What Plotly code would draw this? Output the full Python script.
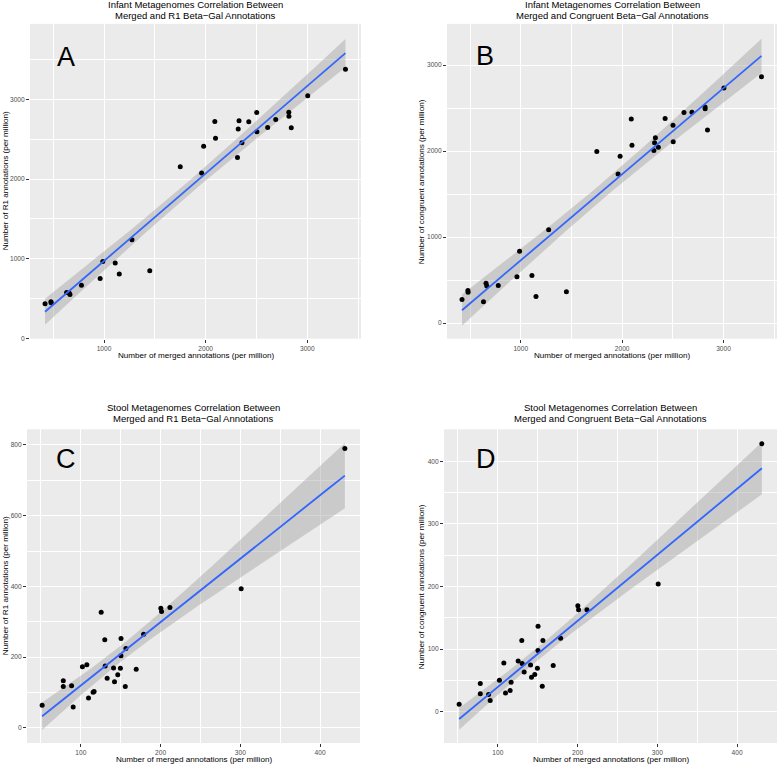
import numpy as np
import plotly.graph_objects as go

W, H = 778, 767

# infant metagenomes: merged annotations (x), R1 (panel A) and congruent (panel B)
infant_merged = [420, 478, 480, 632, 657, 665, 778, 962, 988, 1110, 1150, 1275, 1450,
                 1750, 1960, 1980, 2090, 2097, 2313, 2320, 2328, 2357, 2424, 2502,
                 2504, 2610, 2689, 2818, 2819, 2842, 3004, 3375]
infant_r1 = [434, 459, 446, 575, 570, 550, 666, 750, 966, 946, 809, 1237, 850,
             2154, 2077, 2412, 2725, 2512, 2271, 2629, 2733, 2458, 2721, 2837,
             2596, 2648, 2750, 2841, 2791, 2646, 3046, 3379]
infant_congruent = [273, 378, 359, 247, 463, 432, 436, 537, 834, 552, 308, 1085, 365,
                    1995, 1734, 1940, 2375, 2068, 2008, 2097, 2155, 2046, 2379, 2301,
                    2109, 2450, 2452, 2514, 2492, 2245, 2734, 2865]

# stool metagenomes: merged annotations (x), R1 (panel C) and congruent (panel D)
stool_merged = [51.5, 78, 78, 88.4, 90.4, 102, 107.5, 109.6, 115.4, 116.6, 125.5, 130,
                130.5, 133, 141, 142.2, 146.3, 150.4, 149.6, 150.3, 155.7, 156.5,
                169.4, 178.7, 200.3, 201.2, 211.7, 301, 431]
stool_r1 = [64, 133.5, 116.6, 119.4, 59, 173, 178.6, 84.5, 100.6, 103, 326.8, 249,
            174.6, 140, 169, 130.7, 150.4, 252.7, 168.2, 204, 116.6, 224.5,
            165.4, 264.8, 338, 328.7, 340, 393, 790]
stool_congruent = [12, 45, 28.6, 27.7, 18, 50.4, 78, 29.8, 34, 47.3, 81, 113.6,
                   77, 63.6, 74.8, 55.2, 59.5, 136.4, 69.5, 97.7, 40.9, 113.6,
                   73.8, 117.3, 169.3, 162.9, 162.9, 204, 428]

panels = [
    dict(x=infant_merged, y=infant_r1, letter="A",
         title=["Infant Metagenomes Correlation Between",
                "Merged and R1 Beta\u2212Gal Annotations"],
         ytitle="Number of R1 annotations (per million)",
         box=(30, 361, 24, 340), xr=[272, 3528], yr=[-5, 3950], xd=1000, yd=1000,
         letter_px=(65.7, 57), ytitle_px=5, title_px=(4.5, 15.5), xtitle_px=357),
    dict(x=infant_merged, y=infant_congruent, letter="B",
         title=["Infant Metagenomes Correlation Between",
                "Merged and Congruent Beta\u2212Gal Annotations"],
         ytitle="Number of congruent annotations (per million)",
         box=(447, 777, 24, 340), xr=[272, 3528], yr=[-182, 3480], xd=1000, yd=1000,
         letter_px=(484.7, 56.5), ytitle_px=421, title_px=(4.5, 15.5), xtitle_px=357),
    dict(x=stool_merged, y=stool_r1, letter="C",
         title=["Stool Metagenomes Correlation Between",
                "Merged and R1 Beta\u2212Gal Annotations"],
         ytitle="Number of R1 annotations (per million)",
         box=(27, 360, 431, 746), xr=[32.5, 450], yr=[-43, 844], xd=100, yd=200,
         letter_px=(65.7, 461), ytitle_px=5, title_px=(409.5, 420.5), xtitle_px=762),
    dict(x=stool_merged, y=stool_congruent, letter="D",
         title=["Stool Metagenomes Correlation Between",
                "Merged and Congruent Beta\u2212Gal Annotations"],
         ytitle="Number of congruent annotations (per million)",
         box=(444, 777, 431, 746), xr=[32.5, 450], yr=[-50, 451], xd=100, yd=100,
         letter_px=(485.7, 461), ytitle_px=421, title_px=(409.5, 420.5), xtitle_px=762),
]


def t975(df):
    z = 1.959964
    return z + (z**3 + z) / (4 * df) + (5 * z**5 + 16 * z**3 + 3 * z) / (96 * df**2)


def lm_band(x, y, n_grid=80):
    x = np.asarray(x, float)
    y = np.asarray(y, float)
    n = len(x)
    b1, b0 = np.polyfit(x, y, 1)
    resid = y - (b0 + b1 * x)
    s = np.sqrt(np.sum(resid**2) / (n - 2))
    sxx = np.sum((x - x.mean())**2)
    gx = np.linspace(x.min(), x.max(), n_grid)
    fit = b0 + b1 * gx
    se = s * np.sqrt(1 / n + (gx - x.mean())**2 / sxx)
    t = t975(n - 2)
    return gx, fit, fit - t * se, fit + t * se


def px(xp):
    return xp / W


def py(yp):
    return 1 - yp / H


fig = go.Figure()
font = "Liberation Sans, Arial, Helvetica, sans-serif"
annotations = []


def label(text, x, y, size, angle=0):
    annotations.append(dict(
        text=text, x=px(x), y=py(y), xref="paper", yref="paper", textangle=angle,
        xanchor="center", yanchor="middle", showarrow=False, borderpad=0,
        font=dict(family=font, size=size, color="black")))


for i, p in enumerate(panels, start=1):
    xa = "x" if i == 1 else f"x{i}"
    ya = "y" if i == 1 else f"y{i}"
    gx, fit, lo, hi = lm_band(p["x"], p["y"])

    fig.add_trace(go.Scatter(
        x=np.concatenate([gx, gx[::-1]]), y=np.concatenate([hi, lo[::-1]]),
        fill="toself", fillcolor="rgba(153,153,153,0.4)", line=dict(width=0),
        mode="lines", hoverinfo="skip", showlegend=False, xaxis=xa, yaxis=ya))
    fig.add_trace(go.Scatter(
        x=p["x"], y=p["y"], mode="markers",
        marker=dict(size=5, color="black"), showlegend=False, xaxis=xa, yaxis=ya))
    fig.add_trace(go.Scatter(
        x=gx, y=fit, mode="lines", line=dict(color="#3366FF", width=1.8),
        showlegend=False, xaxis=xa, yaxis=ya))

    x0, x1, y0, y1 = p["box"]
    common = dict(showgrid=True, gridcolor="white", gridwidth=1.1, zeroline=False,
                  showline=False, ticks="outside", ticklen=3, tickwidth=0.8,
                  tickcolor="#333333",
                  tickfont=dict(family=font, size=6.6, color="#4D4D4D"))
    fig.layout[f"xaxis{'' if i == 1 else i}"] = dict(
        domain=[px(x0), px(x1)], range=p["xr"], anchor=ya, dtick=p["xd"], tick0=0,
        minor=dict(dtick=p["xd"] / 2, tick0=0, showgrid=True, gridcolor="white", gridwidth=0.5),
        **common)
    fig.layout[f"yaxis{'' if i == 1 else i}"] = dict(
        domain=[py(y1), py(y0)], range=p["yr"], anchor=xa, dtick=p["yd"], tick0=0,
        minor=dict(dtick=p["yd"] / 2, tick0=0, showgrid=True, gridcolor="white", gridwidth=0.5),
        **common)

    cx = (x0 + x1) / 2
    label(p["title"][0], cx, p["title_px"][0], 9.5)
    label(p["title"][1], cx, p["title_px"][1], 9.5)
    label("Number of merged annotations (per million)", cx, p["xtitle_px"], 8.1)
    label(p["ytitle"], p["ytitle_px"], (y0 + y1) / 2, 8.1, angle=-90)
    label(p["letter"], p["letter_px"][0], p["letter_px"][1], 27)

fig.update_layout(
    width=W, height=H, margin=dict(l=0, r=0, t=0, b=0),
    paper_bgcolor="white", plot_bgcolor="#EBEBEB",
    annotations=annotations, showlegend=False)

# the page body has a default 8px margin; drop it so the figure fills the window
fig.write_html("out.html", config={"displayModeBar": False},
               post_script="document.body.style.margin='0';")
